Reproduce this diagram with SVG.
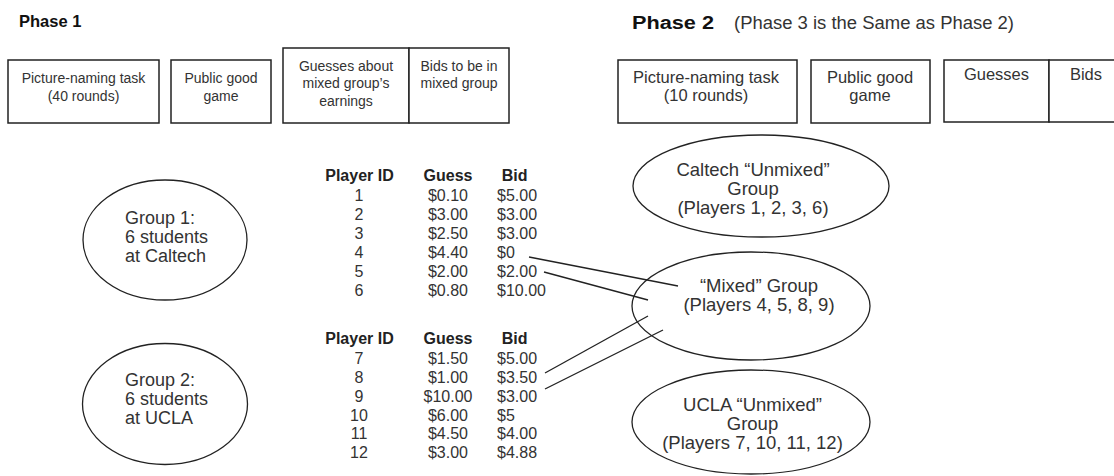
<svg xmlns="http://www.w3.org/2000/svg" width="1114" height="476" viewBox="0 0 1114 476">
<style>
text{font-family:"Liberation Sans",Arial,sans-serif;fill:#333}
.h{font-weight:bold;fill:#111}
.b1{font-size:14px;text-anchor:middle}
.b2{font-size:16.5px;text-anchor:middle}
.box{fill:#fff;stroke:#222;stroke-width:1.5}
.ell{fill:none;stroke:#222;stroke-width:1.3}
.g{font-size:18px}
.e{font-size:18.5px;text-anchor:middle}
.t{font-size:16px}
.th{font-size:16px;font-weight:bold;fill:#222}
.m{text-anchor:middle}
.conn line{stroke:#222;stroke-width:1.3}
</style>
<rect width="1114" height="476" fill="#fff"/>
<text class="h" x="19" y="27" font-size="16.5">Phase 1</text>
<text class="h" x="632" y="29" font-size="18" textLength="82" lengthAdjust="spacingAndGlyphs">Phase 2</text>
<text x="734" y="29" font-size="17.5" textLength="280" lengthAdjust="spacingAndGlyphs">(Phase 3 is the Same as Phase 2)</text>

<g id="p1-picture">
<rect class="box" x="8" y="60" width="151" height="63"/>
<text class="b1" x="83.5" y="83">Picture-naming task</text>
<text class="b1" x="83.5" y="101">(40 rounds)</text>
</g>
<g id="p1-public">
<rect class="box" x="171" y="60" width="100" height="63"/>
<text class="b1" x="221" y="83">Public good</text>
<text class="b1" x="221" y="101">game</text>
</g>
<g id="p1-guesses">
<rect class="box" x="283" y="48" width="126" height="75"/>
<text class="b1" x="346" y="71">Guesses about</text>
<text class="b1" x="346" y="88">mixed group’s</text>
<text class="b1" x="346" y="106">earnings</text>
</g>
<g id="p1-bids">
<rect class="box" x="409" y="48" width="100" height="75"/>
<text class="b1" x="459" y="71">Bids to be in</text>
<text class="b1" x="459" y="88">mixed group</text>
</g>

<g id="p2-picture">
<rect class="box" x="618" y="60" width="179" height="63"/>
<text class="b2" x="706" y="83">Picture-naming task</text>
<text class="b2" x="706" y="101">(10 rounds)</text>
</g>
<g id="p2-public">
<rect class="box" x="811" y="60" width="119" height="63"/>
<text class="b2" x="870" y="83">Public good</text>
<text class="b2" x="870" y="101">game</text>
</g>
<g id="p2-guesses">
<rect class="box" x="944" y="60" width="105" height="62"/>
<text class="b2" x="996.5" y="80">Guesses</text>
</g>
<g id="p2-bids">
<rect class="box" x="1049" y="60" width="80" height="62"/>
<text class="b2" x="1086" y="80">Bids</text>
</g>

<g id="group1">
<ellipse class="ell" cx="165" cy="240" rx="82" ry="60"/>
<text class="g" x="125" y="224">Group 1:</text>
<text class="g" x="125" y="243">6 students</text>
<text class="g" x="125" y="262">at Caltech</text>
</g>
<g id="group2">
<ellipse class="ell" cx="165" cy="404" rx="82.5" ry="60.5"/>
<text class="g" x="125" y="386">Group 2:</text>
<text class="g" x="125" y="405">6 students</text>
<text class="g" x="125" y="424">at UCLA</text>
</g>

<g id="table1">
<text class="th m" x="359.5" y="181">Player ID</text>
<text class="th m" x="448" y="181">Guess</text>
<text class="th m" x="514.7" y="181">Bid</text>
<g class="t">
<text class="m" x="359" y="201">1</text><text class="m" x="448" y="201">$0.10</text><text x="497" y="201">$5.00</text>
<text class="m" x="359" y="220">2</text><text class="m" x="448" y="220">$3.00</text><text x="497" y="220">$3.00</text>
<text class="m" x="359" y="239">3</text><text class="m" x="448" y="239">$2.50</text><text x="497" y="239">$3.00</text>
<text class="m" x="359" y="258">4</text><text class="m" x="448" y="258">$4.40</text><text x="497" y="258">$0</text>
<text class="m" x="359" y="277">5</text><text class="m" x="448" y="277">$2.00</text><text x="497" y="277">$2.00</text>
<text class="m" x="359" y="296">6</text><text class="m" x="448" y="296">$0.80</text><text x="497" y="296">$10.00</text>
</g>
</g>
<g id="table2">
<text class="th m" x="359.5" y="344">Player ID</text>
<text class="th m" x="448" y="344">Guess</text>
<text class="th m" x="514.7" y="344">Bid</text>
<g class="t">
<text class="m" x="359" y="364">7</text><text class="m" x="448" y="364">$1.50</text><text x="497" y="364">$5.00</text>
<text class="m" x="359" y="383">8</text><text class="m" x="448" y="383">$1.00</text><text x="497" y="383">$3.50</text>
<text class="m" x="359" y="402">9</text><text class="m" x="448" y="402">$10.00</text><text x="497" y="402">$3.00</text>
<text class="m" x="359" y="421">10</text><text class="m" x="448" y="421">$6.00</text><text x="497" y="421">$5</text>
<text class="m" x="359" y="439">11</text><text class="m" x="448" y="439">$4.50</text><text x="497" y="439">$4.00</text>
<text class="m" x="359" y="458">12</text><text class="m" x="448" y="458">$3.00</text><text x="497" y="458">$4.88</text>
</g>
</g>

<g id="caltech-unmixed">
<ellipse class="ell" cx="761" cy="186" rx="128" ry="51"/>
<text class="e" x="753" y="176">Caltech “Unmixed”</text>
<text class="e" x="753" y="195">Group</text>
<text class="e" x="753" y="214">(Players 1, 2, 3, 6)</text>
</g>
<g id="mixed">
<ellipse class="ell" cx="751" cy="306" rx="119" ry="54"/>
<text class="e" x="759" y="292" font-size="19">“Mixed” Group</text>
<text class="e" x="759" y="311" font-size="19">(Players 4, 5, 8, 9)</text>
</g>
<g id="ucla-unmixed">
<ellipse class="ell" cx="751" cy="422" rx="119" ry="52"/>
<text class="e" x="752.5" y="411">UCLA “Unmixed”</text>
<text class="e" x="752.5" y="430">Group</text>
<text class="e" x="752.5" y="449">(Players 7, 10, 11, 12)</text>
</g>

<g class="conn" id="connectors">
<line x1="529" y1="257" x2="678" y2="286"/>
<line x1="544" y1="272" x2="648" y2="300"/>
<line x1="545" y1="373" x2="648" y2="316"/>
<line x1="545" y1="389" x2="663" y2="330"/>
</g>
</svg>
